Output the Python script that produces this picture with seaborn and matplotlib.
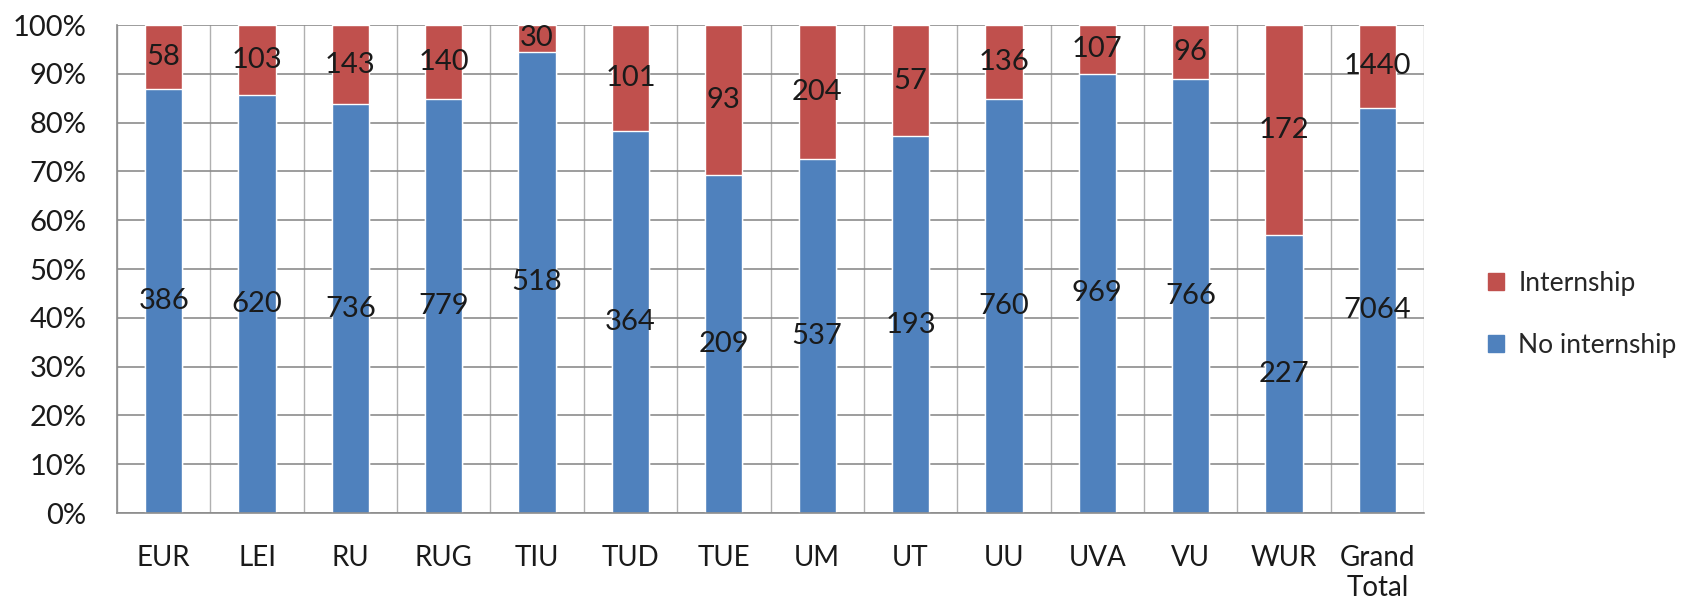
# 100% stacked bar: internship vs no internship per university

import matplotlib
matplotlib.use('Agg')
import matplotlib.pyplot as plt
from matplotlib.ticker import PercentFormatter, FixedLocator
from matplotlib.patches import Patch
import seaborn as sns
import pandas as pd

universities = ['EUR', 'LEI', 'RU', 'RUG', 'TIU', 'TUD', 'TUE', 'UM', 'UT', 'UU',
                'UVA', 'VU', 'WUR', 'Grand\nTotal']
no_internship = [386, 620, 736, 779, 518, 364, 209, 537, 193, 760, 969, 766, 227, 7064]
internship = [58, 103, 143, 140, 30, 101, 93, 204, 57, 136, 107, 96, 172, 1440]

BLUE = '#4F81BD'
RED = '#C0504D'
GRID = '#8C8C8C'
TXT = '#1a1a1a'

df = pd.DataFrame({'uni': universities, 'no': no_internship, 'yes': internship})
df['total'] = df['no'] + df['yes']
df['no_pct'] = df['no'] / df['total'] * 100
df['full'] = 100.0

sns.set_style('white')
plt.rcParams['font.family'] = ['Lato', 'DejaVu Sans']

fig = plt.figure(figsize=(16.85, 6.1), dpi=100)
ax = fig.add_axes([117 / 1685, 1 - 513 / 610, (1424 - 117) / 1685, (513 - 25) / 610])

sns.barplot(data=df, x='uni', y='full', color=RED, width=0.4, saturation=1, ax=ax)
sns.barplot(data=df, x='uni', y='no_pct', color=BLUE, width=0.4, saturation=1, ax=ax)

# count labels centred in each segment
for i, row in df.iterrows():
    ax.text(i, row['no_pct'] / 2, str(row['no']), ha='center', va='center',
            fontsize=21, color=TXT)
    ax.text(i, row['no_pct'] + (100 - row['no_pct']) / 2, str(row['yes']),
            ha='center', va='center', fontsize=21, color=TXT)

ax.set_xlim(-0.5, len(universities) - 0.5)
ax.set_ylim(0, 100)
ax.set_yticks(range(0, 101, 10))
ax.yaxis.set_major_formatter(PercentFormatter(decimals=0))
ax.xaxis.set_minor_locator(FixedLocator([i + 0.5 for i in range(-1, len(universities))]))

ax.grid(axis='y', which='major', color=GRID, linewidth=1.2)
ax.grid(axis='x', which='minor', color='#B0B0B0', linewidth=1.0)
ax.set_axisbelow(True)

ax.tick_params(axis='y', which='major', length=7, color=GRID, width=1.2, labelsize=21, pad=15)
ax.tick_params(axis='x', which='major', length=0, labelsize=20, pad=23)
ax.tick_params(axis='x', which='minor', length=8, color=GRID, width=1.2, direction='out')
for lab in ax.get_xticklabels() + ax.get_yticklabels():
    lab.set_color(TXT)

for side in ['top', 'right']:
    ax.spines[side].set_visible(False)
for side in ['left', 'bottom']:
    ax.spines[side].set_color(GRID)
    ax.spines[side].set_linewidth(1.2)

ax.set_xlabel('')
ax.set_ylabel('')

handles = [Patch(color=RED, label='Internship'), Patch(color=BLUE, label='No internship')]
fig.legend(handles=handles, loc='center left', bbox_to_anchor=(0.869, 0.485),
           frameon=False, fontsize=19, handlelength=0.6, handleheight=0.6,
           labelspacing=1.4, handletextpad=0.55)

fig.savefig('out.png', dpi=100)
